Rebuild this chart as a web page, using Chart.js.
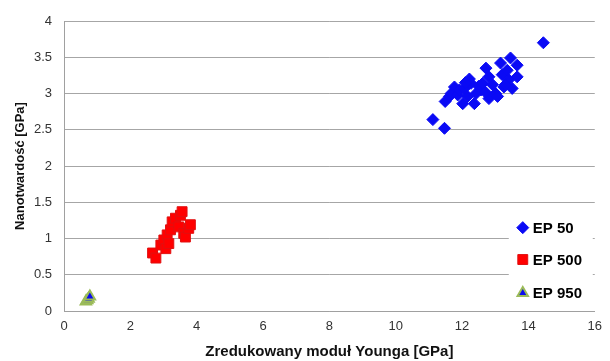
<!DOCTYPE html>
<html>
<head>
<meta charset="utf-8">
<script src="https://cdn.jsdelivr.net/npm/chart.js"></script>
<style>
  html, body { margin: 0; padding: 0; background: #fff; }
  #wrap { width: 610px; height: 361px; position: relative; }
</style>
</head>
<body>
<div id="wrap"><canvas id="c"></canvas></div>
<script>
// Reduced Young's modulus [GPa] and nanohardness [GPa] per sample
const seriesNames = ['EP 50', 'EP 500', 'EP 950'];

const ep50Modulus  = [11.12, 11.47, 11.49, 11.62, 11.67, 11.77, 11.87, 11.92, 12.02, 12.07, 12.17, 12.22, 12.27, 12.37, 12.42, 12.50, 12.57, 12.62, 12.72, 12.81, 12.81, 12.92, 13.01, 13.07, 13.16, 13.21, 13.26, 13.36, 13.41, 13.46, 13.51, 13.66, 13.66, 12.10, 12.70, 13.30, 14.45];
const ep50Hardness = [2.64, 2.52, 2.89, 2.96, 3.00, 3.09, 2.98, 3.05, 2.86, 3.07, 2.96, 3.20, 3.14, 2.86, 3.00, 3.10, 3.05, 3.14, 3.35, 3.23, 2.93, 3.12, 3.00, 2.96, 3.42, 3.26, 3.09, 3.32, 3.19, 3.49, 3.07, 3.39, 3.23, 3.15, 3.02, 3.12, 3.70];

const ep500Modulus  = [2.67, 2.77, 2.92, 3.01, 3.07, 3.11, 3.16, 3.21, 3.26, 3.36, 3.46, 3.51, 3.56, 3.61, 3.66, 3.76, 3.81];
const ep500Hardness = [0.80, 0.73, 0.91, 0.98, 0.86, 1.05, 0.93, 1.12, 1.23, 1.28, 1.16, 1.32, 1.37, 1.07, 1.02, 1.14, 1.19];

const ep950Modulus  = [0.66, 0.70, 0.74, 0.78];
const ep950Hardness = [0.13, 0.15, 0.17, 0.20];

const xTicks = [0, 2, 4, 6, 8, 10, 12, 14, 16];
const yTicks = [0, 0.5, 1, 1.5, 2, 2.5, 3, 3.5, 4];

const toPoints = (xs, ys) => xs.map((x, i) => ({ x: x, y: ys[i] }));

const FONT = "'Liberation Sans', Arial, sans-serif";

// Legend drawn inside the plot area, lower right, on a white box
const innerLegend = {
  id: 'innerLegend',
  afterDraw(chart) {
    const ctx = chart.ctx;
    const area = chart.chartArea;
    const boxRight = area.right - 2;
    const boxLeft = boxRight - 84;
    const rowY = [chart.scales.y.getPixelForValue(1.15), chart.scales.y.getPixelForValue(0.71), chart.scales.y.getPixelForValue(0.25)];
    ctx.save();
    ctx.fillStyle = '#ffffff';
    ctx.fillRect(boxLeft, rowY[0] - 16, boxRight - boxLeft, rowY[2] - rowY[0] + 30);
    chart.data.datasets.forEach((ds, i) => {
      const mx = boxLeft + 14;
      const my = rowY[i];
      ctx.fillStyle = ds.backgroundColor;
      ctx.strokeStyle = ds.borderColor;
      ctx.lineWidth = ds.borderWidth;
      Chart.helpers.drawPoint(ctx, {
        pointStyle: ds.pointStyle,
        radius: ds.legendRadius,
        borderWidth: ds.borderWidth,
        rotation: 0
      }, mx, my);
      ctx.fillStyle = '#000000';
      ctx.font = "bold 15px " + FONT;
      ctx.textBaseline = 'middle';
      ctx.textAlign = 'left';
      ctx.fillText(ds.label, mx + 10, my + 1);
    });
    ctx.restore();
  }
};

new Chart(document.getElementById('c'), {
  type: 'scatter',
  data: {
    datasets: [
      {
        label: seriesNames[0],
        data: toPoints(ep50Modulus, ep50Hardness),
        pointStyle: 'rectRot',
        radius: 6,
        legendRadius: 6,
        backgroundColor: '#0a0af5',
        borderColor: '#0a0af5',
        borderWidth: 1
      },
      {
        label: seriesNames[1],
        data: toPoints(ep500Modulus, ep500Hardness),
        pointStyle: 'rect',
        radius: 7,
        legendRadius: 7,
        backgroundColor: '#ff0000',
        borderColor: '#e01010',
        borderWidth: 1
      },
      {
        label: seriesNames[2],
        data: toPoints(ep950Modulus, ep950Hardness),
        pointStyle: 'triangle',
        radius: 6,
        legendRadius: 6,
        backgroundColor: '#0a0af0',
        borderColor: '#9bbb59',
        borderWidth: 2
      }
    ]
  },
  options: {
    responsive: true,
    maintainAspectRatio: false,
    animation: false,
    devicePixelRatio: 1,
    layout: { padding: { top: 21, right: 10, left: 0, bottom: 0 } },
    plugins: {
      legend: { display: false },
      tooltip: { enabled: false }
    },
    scales: {
      x: {
        type: 'linear',
        min: 0,
        max: 16,
        afterBuildTicks(scale) { scale.ticks = xTicks.map(v => ({ value: v })); },
        afterFit(scale) { scale.height = 50; },
        grid: { display: false, drawTicks: false },
        border: { display: true, color: '#a0a0a0', width: 1 },
        ticks: { padding: 8, color: '#333333', font: { family: FONT, size: 13 }, callback: v => String(v) },
        title: {
          display: true,
          text: 'Zredukowany moduł Younga [GPa]',
          color: '#111',
          font: { family: FONT, size: 15, weight: 'bold' },
          padding: { top: 0, bottom: 0 }
        }
      },
      y: {
        type: 'linear',
        min: 0,
        max: 4,
        afterBuildTicks(scale) { scale.ticks = yTicks.map(v => ({ value: v })); },
        afterFit(scale) { scale.width = 64; },
        grid: { color: '#a6a6a6', lineWidth: 1, drawTicks: false },
        border: { display: true, color: '#a0a0a0', width: 1 },
        ticks: { padding: 12, color: '#333333', font: { family: FONT, size: 13 }, callback: v => String(v) },
        title: {
          display: true,
          text: 'Nanotwardość [GPa]',
          color: '#111',
          font: { family: FONT, size: 13, weight: 'bold' },
          padding: { top: 13, bottom: 0 }
        }
      }
    }
  },
  plugins: [innerLegend]
});
</script>
</body>
</html>
